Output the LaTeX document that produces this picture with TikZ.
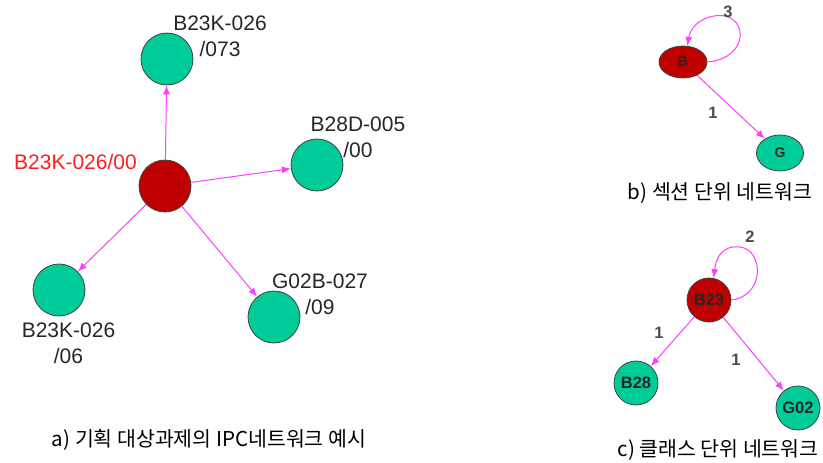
\documentclass[tikz,border=0pt]{standalone}
\usepackage{fontspec}
\setmainfont{Liberation Sans}
\newfontfamily\kr{Noto Sans CJK KR}
\usetikzlibrary{arrows.meta,shapes.geometric}
\definecolor{ng}{RGB}{0,204,153}
\definecolor{nr}{RGB}{192,0,0}
\definecolor{em}{RGB}{255,60,255}
\definecolor{lr}{RGB}{255,30,30}
\begin{document}
\begin{tikzpicture}[x=1pt,y=-1pt,
 gnode/.style={circle,draw=black!75,fill=ng,line width=0.8pt,minimum size=52pt,inner sep=0pt},
 rnode/.style={circle,draw=black!75,fill=nr,line width=0.8pt,minimum size=52pt,inner sep=0pt},
 conn/.style={draw=em,line width=1pt,-{Latex[length=9pt,width=7pt]}},
 nlabel/.style={font=\fontsize{21}{26}\selectfont,align=center,text=black!85,inner sep=0pt},
 captxt/.style={font=\kr\fontsize{20.5}{24}\selectfont,inner sep=0pt},
 elabel/.style={font=\bfseries\fontsize{16.5}{18}\selectfont,text=black!70,inner sep=0pt},
 ntextb/.style={font=\bfseries\fontsize{14}{16}\selectfont,text=black!85},
 ntextc/.style={font=\bfseries\fontsize{16.5}{18}\selectfont,text=black!85}]
\useasboundingbox[fill=white] (0,0) rectangle (823,463);

% ---- panel a ----
\node[rnode] (c) at (165,186) {};
\node[gnode] (t) at (167,59) {};
\node[gnode] (r) at (317,165) {};
\node[gnode] (bl) at (59,290) {};
\node[gnode] (br) at (274,317) {};
\draw[conn] (c) -- (t);
\draw[conn] (c) -- (r);
\draw[conn] (c) -- (bl);
\draw[conn] (c) -- (br);
\node[nlabel] (lt) at (220,36) {B23K-026\\/073};
\node[nlabel] (lr) at (358,137.5) {B28D-005\\/00};
\node[nlabel] (lbr) at (320,294.5) {G02B-027\\/09};
\node[nlabel] (lbl) at (68.5,343) {B23K-026\\/06};
\node[nlabel,text=lr] (lc) at (75.5,162) {B23K-026/00};
\node[captxt] (capa) at (209,440) {a) 기획 대상과제의 IPC네트워크 예시};

% ---- panel b ----
\node[ellipse,draw=black!75,fill=nr,line width=0.8pt,minimum width=48pt,minimum height=32pt,inner sep=0pt,ntextb] (B) at (683,62) {B};
\node[ellipse,draw=black!75,fill=ng,line width=0.8pt,minimum width=47pt,minimum height=36pt,inner sep=0pt,ntextb] (G) at (780,153) {G};
\draw[conn] (B.east) .. controls (752,58) and (748,10) .. (714,16) .. controls (697,19) and (690,30) .. (B.75);
\draw[conn] (B) -- (G);
\node[elabel] (l3) at (728,12) {3};
\node[elabel] (l1b) at (713,113) {1};
\node[captxt] (capb) at (720,193) {b) 섹션 단위 네트워크};

% ---- panel c ----
\node[circle,draw=black!75,fill=nr,line width=0.8pt,minimum size=44pt,inner sep=0pt,ntextc] (B23) at (709,300) {B23};
\node[circle,draw=black!75,fill=ng,line width=0.8pt,minimum size=44pt,inner sep=0pt,ntextc] (B28) at (636,383) {B28};
\node[circle,draw=black!75,fill=ng,line width=0.8pt,minimum size=44pt,inner sep=0pt,ntextc] (G02) at (798,408) {G02};
\draw[conn] (B23.east) .. controls (765,296) and (764,250) .. (740,247) .. controls (722,245) and (716,258) .. (B23.78);
\draw[conn] (B23) -- (B28);
\draw[conn] (B23) -- (G02);
\node[elabel] (l2) at (750,237) {2};
\node[elabel] (l1c) at (659,333) {1};
\node[elabel] (l1d) at (736,360) {1};
\node[captxt] (capc) at (718,450) {c) 클래스 단위 네트워크};
\end{tikzpicture}
\end{document}
